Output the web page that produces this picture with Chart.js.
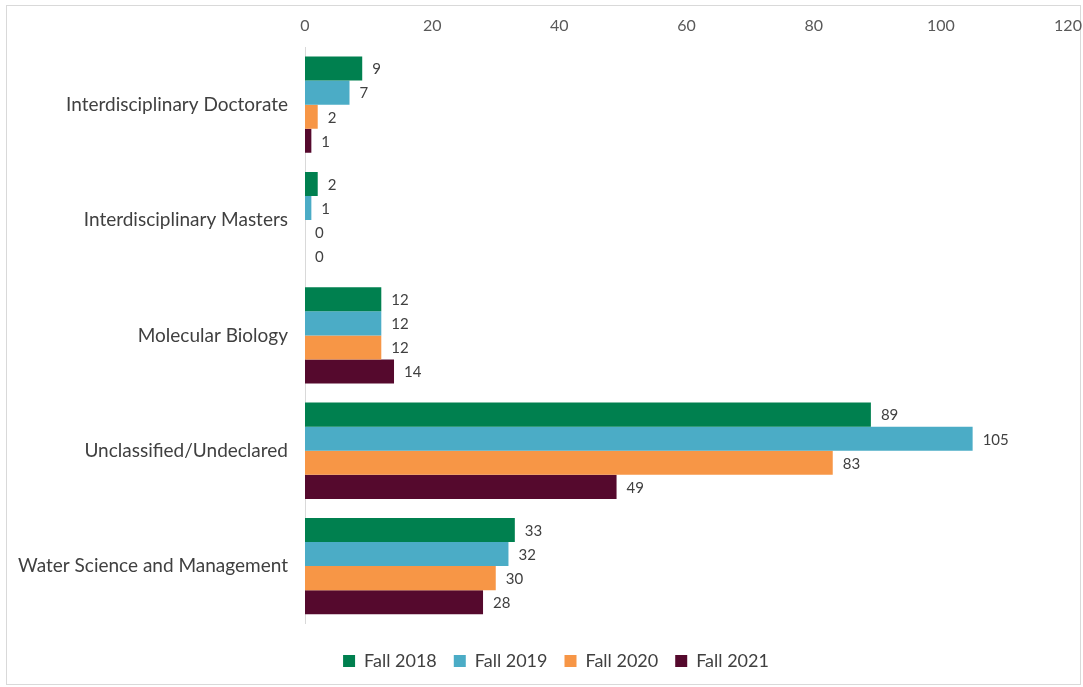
<!DOCTYPE html>
<html>
<head>
<meta charset="utf-8">
<script src="https://cdn.jsdelivr.net/npm/chart.js@4/dist/chart.umd.min.js"></script>
<style>
  html, body { margin: 0; padding: 0; background: #fff; }
  #wrap { position: relative; width: 1083px; height: 687px; }
  #frame { position: absolute; left: 6px; top: 5px; width: 1075px; height: 680px; border: 1px solid #d9d9d9; box-sizing: border-box; }
  canvas { position: absolute; left: 0; top: 0; }
</style>
</head>
<body>
<div id="wrap">
  <div id="frame"></div>
  <canvas id="chart" width="1083" height="687"></canvas>
</div>
<script>
(() => {
  "use strict";

  const categories = [
    "Interdisciplinary Doctorate",
    "Interdisciplinary Masters",
    "Molecular Biology",
    "Unclassified/Undeclared",
    "Water Science and Management",
  ];
  const fall2018 = [9, 2, 12, 89, 33];
  const fall2019 = [7, 1, 12, 105, 32];
  const fall2020 = [2, 0, 12, 83, 30];
  const fall2021 = [1, 0, 14, 49, 28];
  const xTicks = [0, 20, 40, 60, 80, 100, 120];

  const FONT = "Lato, 'Open Sans', sans-serif";

  // -- value labels at the end of each bar ---------------------------------
  const barLabels = {
    id: "barLabels",
    afterDatasetsDraw(chart) {
      const ctx = chart.ctx;
      ctx.save();
      ctx.font = "15px " + FONT;
      ctx.fillStyle = "#404040";
      ctx.textAlign = "left";
      ctx.textBaseline = "middle";
      chart.data.datasets.forEach((ds, i) => {
        chart.getDatasetMeta(i).data.forEach((bar, j) => {
          ctx.fillText(String(ds.data[j]), bar.x + 10, bar.y + 1);
        });
      });
      ctx.restore();
    },
  };

  // legend sits a little right of the canvas centre in the original
  const legendNudge = {
    id: "legendNudge",
    afterLayout(chart) {
      if (chart.legend) chart.legend.left += 44;
    },
  };

  new Chart(document.getElementById("chart"), {
    type: "bar",
    data: {
      labels: categories,
      datasets: [
        { label: "Fall 2018", data: fall2018, backgroundColor: "#00804F" },
        { label: "Fall 2019", data: fall2019, backgroundColor: "#4BACC6" },
        { label: "Fall 2020", data: fall2020, backgroundColor: "#F79646" },
        { label: "Fall 2021", data: fall2021, backgroundColor: "#55092D" },
      ],
    },
    options: {
      indexAxis: "y",
      responsive: false,
      animation: false,
      layout: { padding: { left: 0, right: 15, top: 0, bottom: 7 } },
      datasets: { bar: { categoryPercentage: 0.835, barPercentage: 1.0 } },
      scales: {
        x: {
          position: "top",
          min: 0,
          max: 120,
          afterBuildTicks: (s) => { s.ticks = xTicks.map((v) => ({ value: v })); },
          afterFit: (s) => { s.height = 47; s.paddingRight = 0; s.paddingLeft = 0; },
          grid: { display: false, drawTicks: false },
          border: { display: false },
          ticks: { color: "#595959", font: { family: FONT, size: 16 }, padding: 12 },
        },
        y: {
          afterFit: (s) => { s.width = 305; },
          grid: { display: false, drawTicks: false },
          border: { display: true, color: "#d9d9d9", width: 1 },
          ticks: { color: "#404040", font: { family: FONT, size: 19 }, padding: 17 },
        },
      },
      plugins: {
        legend: {
          position: "bottom",
          title: { display: true, text: " ", font: { size: 1 }, padding: { top: 10, bottom: 0 } },
          labels: {
            color: "#404040",
            font: { family: FONT, size: 18 },
            boxWidth: 12,
            boxHeight: 12,
            padding: 17,
          },
        },
        tooltip: { enabled: false },
      },
    },
    plugins: [barLabels, legendNudge],
  });
})();
</script>
</body>
</html>
